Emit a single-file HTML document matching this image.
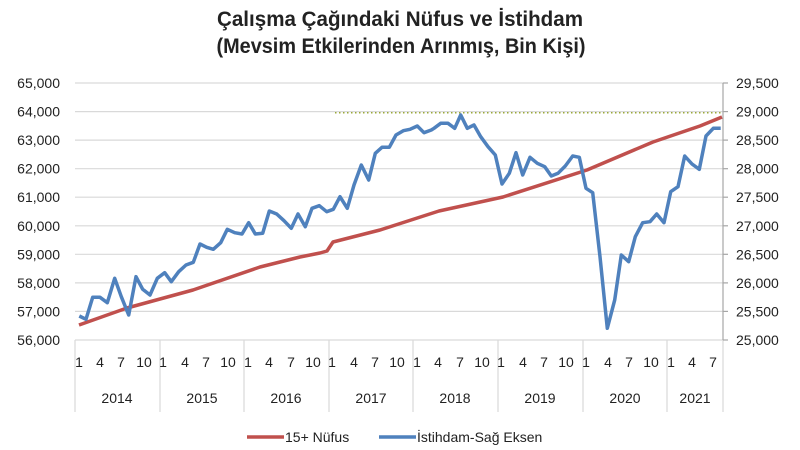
<!DOCTYPE html>
<html><head><meta charset="utf-8"><style>
html,body{margin:0;padding:0;background:#fff;}
svg{display:block;}
text{font-family:"Liberation Sans Narrow","Liberation Sans",sans-serif;fill:#222;}
</style></head><body>
<svg width="800" height="450" viewBox="0 0 800 450" xmlns="http://www.w3.org/2000/svg">
<text x="400" y="26" text-anchor="middle" font-size="21" font-weight="bold" textLength="366" lengthAdjust="spacingAndGlyphs">Çalışma Çağındaki Nüfus ve İstihdam</text>
<text x="401" y="53" text-anchor="middle" font-size="21" font-weight="bold" textLength="369" lengthAdjust="spacingAndGlyphs">(Mevsim Etkilerinden Arınmış, Bin Kişi)</text>
<g stroke="#d9d9d9" stroke-width="1.2">
<line x1="75" y1="83" x2="723" y2="83"/><line x1="75" y1="111.6" x2="723" y2="111.6"/><line x1="75" y1="140.1" x2="723" y2="140.1"/><line x1="75" y1="168.7" x2="723" y2="168.7"/><line x1="75" y1="197.2" x2="723" y2="197.2"/><line x1="75" y1="225.8" x2="723" y2="225.8"/><line x1="75" y1="254.3" x2="723" y2="254.3"/><line x1="75" y1="282.9" x2="723" y2="282.9"/><line x1="75" y1="311.4" x2="723" y2="311.4"/><line x1="75" y1="340" x2="723" y2="340"/>
<line x1="75" y1="340" x2="75" y2="412"/><line x1="160" y1="340" x2="160" y2="412"/><line x1="244" y1="340" x2="244" y2="412"/><line x1="329" y1="340" x2="329" y2="412"/><line x1="413" y1="340" x2="413" y2="412"/><line x1="498" y1="340" x2="498" y2="412"/><line x1="583" y1="340" x2="583" y2="412"/><line x1="667" y1="340" x2="667" y2="412"/><line x1="723" y1="340" x2="723" y2="412"/>
</g>
<g stroke="#a6a6a6" stroke-width="1.2"><line x1="723" y1="83" x2="723" y2="340"/>
<line x1="723" y1="83" x2="728" y2="83"/><line x1="723" y1="111.6" x2="728" y2="111.6"/><line x1="723" y1="140.1" x2="728" y2="140.1"/><line x1="723" y1="168.7" x2="728" y2="168.7"/><line x1="723" y1="197.2" x2="728" y2="197.2"/><line x1="723" y1="225.8" x2="728" y2="225.8"/><line x1="723" y1="254.3" x2="728" y2="254.3"/><line x1="723" y1="282.9" x2="728" y2="282.9"/><line x1="723" y1="311.4" x2="728" y2="311.4"/><line x1="723" y1="340" x2="728" y2="340"/></g>
<g font-size="14" text-anchor="end">
<text x="60" y="88">65,000</text><text x="60" y="116.6">64,000</text><text x="60" y="145.1">63,000</text><text x="60" y="173.7">62,000</text><text x="60" y="202.2">61,000</text><text x="60" y="230.8">60,000</text><text x="60" y="259.3">59,000</text><text x="60" y="287.9">58,000</text><text x="60" y="316.4">57,000</text><text x="60" y="345">56,000</text>
</g>
<g font-size="14" text-anchor="start">
<text x="736" y="88">29,500</text><text x="736" y="116.6">29,000</text><text x="736" y="145.1">28,500</text><text x="736" y="173.7">28,000</text><text x="736" y="202.2">27,500</text><text x="736" y="230.8">27,000</text><text x="736" y="259.3">26,500</text><text x="736" y="287.9">26,000</text><text x="736" y="316.4">25,500</text><text x="736" y="345">25,000</text>
</g>
<line x1="335" y1="112.7" x2="723" y2="112.7" stroke="#9aa83a" stroke-width="1.5" stroke-dasharray="1.5,2.5"/>
<polyline fill="none" stroke="#c0504d" stroke-width="3.5" stroke-linejoin="round" points="79,325 127,308 193,290 260,267 300,257 320,253 327,251 333,242 380,230 439,211 503,197 587,170 653,142 700,126 722,117"/>
<polyline fill="none" stroke="#4f81bd" stroke-width="3.5" stroke-linejoin="round" points="79.3,316 86,319.3 92.7,297.3 100,297.3 107.3,302.7 114.7,278.3 121.3,296.7 128.7,315 136,276.7 142.7,289.3 150,295 157.3,278.3 164.7,272.7 171.3,281.7 178.7,271.7 186,265 193.3,262.3 200,244 206.7,247.3 213.3,249.3 220.7,242.7 227.3,229.3 234.7,232.7 242,234 248.7,222.7 255.3,234 262.7,233.3 269.3,211 276.7,214 284,220.7 291.3,228.3 298,214 305.3,226.7 312,208.3 319.3,205.7 326.7,211.7 333.3,209.3 340,196.7 347.3,208.3 354,185 361.3,165 368.7,180 375.3,153.3 382,147.3 389.3,147.3 396,135 403.3,130.7 410,129.3 417.3,126 424,132.7 431.3,130 434,128.3 440.7,123.3 448,123.3 454.7,128.3 460.7,115 467.3,128.3 474,125 480.7,136.7 488,146.7 495.3,155 502,184 509.3,173.3 516,152.7 522.7,175 530,157.3 537.3,163.3 544.7,166.7 551.3,176 558,173.3 565.3,166 572.7,156 579.3,157.3 586,188.3 592.7,192.7 600,256.7 607.3,328.3 614.7,300 621.3,255 628.7,261.7 635.3,236.7 642.7,222.7 650,221.7 656.7,214 664,222.7 670.7,191.7 678,186.7 684.7,156 692,164 699.3,169.3 706,136 713.3,128.3 720.7,128.3"/>
<g font-size="14" text-anchor="middle">
<text x="79" y="367">1</text><text x="100" y="367">4</text><text x="121" y="367">7</text><text x="144" y="367">10</text>
<text x="163" y="367">1</text><text x="185" y="367">4</text><text x="206" y="367">7</text><text x="228" y="367">10</text>
<text x="248" y="367">1</text><text x="269" y="367">4</text><text x="291" y="367">7</text><text x="313" y="367">10</text>
<text x="332" y="367">1</text><text x="354" y="367">4</text><text x="375" y="367">7</text><text x="397" y="367">10</text>
<text x="417" y="367">1</text><text x="438" y="367">4</text><text x="460" y="367">7</text><text x="482" y="367">10</text>
<text x="501" y="367">1</text><text x="523" y="367">4</text><text x="544" y="367">7</text><text x="566" y="367">10</text>
<text x="586" y="367">1</text><text x="608" y="367">4</text><text x="629" y="367">7</text><text x="651" y="367">10</text>
<text x="671" y="367">1</text><text x="692" y="367">4</text><text x="713" y="367">7</text>
<text x="117" y="403">2014</text><text x="202" y="403">2015</text><text x="286" y="403">2016</text><text x="371" y="403">2017</text><text x="455" y="403">2018</text><text x="540" y="403">2019</text><text x="625" y="403">2020</text><text x="695" y="403">2021</text>
</g>
<line x1="247" y1="437" x2="284" y2="437" stroke="#c0504d" stroke-width="3.5"/>
<text x="285" y="442" font-size="14">15+ Nüfus</text>
<line x1="379" y1="437" x2="416" y2="437" stroke="#4f81bd" stroke-width="3.5"/>
<text x="417" y="442" font-size="14">İstihdam-Sağ Eksen</text>
</svg>
</body></html>
